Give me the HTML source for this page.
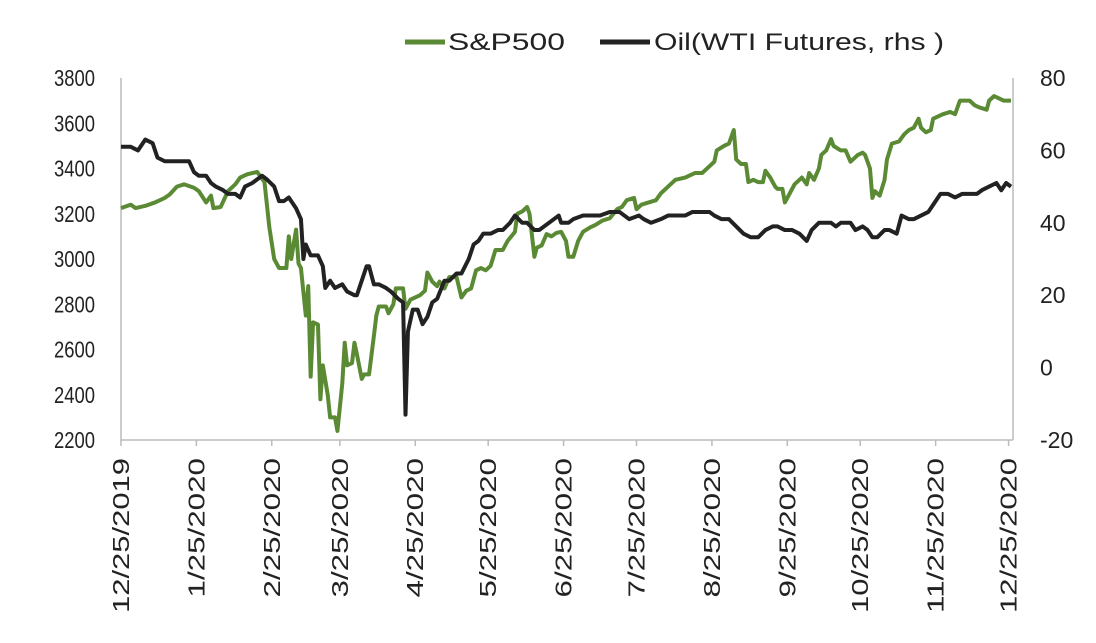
<!DOCTYPE html>
<html><head><meta charset="utf-8"><style>
body{margin:0;background:#fff;}
svg{display:block;font-family:"Liberation Sans",Verdana,sans-serif;}
</style></head><body>
<svg id="c" width="1096" height="643"></svg>
<script>
const spDays=[0,4,6,10,14,18,20,23,26,30,32,35,37,38,41,44,47,49,52,56,59,61,63,65,68,69,70,72,73,74,76,77,78,79,81,82,83,85,86,88,89,91,92,93,95,96,97,99,100,102,104,105,106,109,110,112,113,116,117,119,121,123,125,126,128,130,131,133,135,138,140,142,144,146,148,150,152,154,157,159,162,163,165,167,168,170,171,173,175,177,179,181,183,184,186,188,190,193,195,198,201,204,206,208,211,212,214,217,220,222,226,228,232,234,236,239,241,244,245,248,250,252,253,255,257,258,260,262,264,265,267,269,270,272,273,275,277,278,280,282,283,285,287,288,290,292,293,296,298,300,301,303,305,306,308,309,310,312,314,315,317,320,322,324,326,328,329,331,333,334,336,338,341,343,345,347,349,351,353,356,357,359,361,363,366];
const spVals=[3225,3240,3225,3235,3250,3270,3285,3320,3330,3315,3300,3250,3280,3225,3230,3300,3330,3360,3375,3385,3340,3140,3000,2960,2960,3100,3000,3130,2980,2960,2750,2880,2480,2720,2710,2380,2530,2400,2300,2300,2240,2450,2630,2530,2540,2630,2580,2470,2490,2490,2660,2750,2790,2790,2760,2800,2870,2870,2780,2820,2830,2840,2860,2940,2900,2880,2900,2870,2920,2920,2830,2860,2870,2950,2960,2950,2970,3040,3040,3080,3120,3200,3210,3230,3200,3010,3050,3060,3110,3100,3115,3120,3080,3010,3010,3080,3120,3140,3150,3170,3180,3220,3230,3260,3270,3220,3240,3250,3260,3290,3330,3350,3360,3370,3380,3380,3400,3430,3480,3500,3510,3570,3440,3420,3420,3340,3350,3340,3340,3390,3360,3320,3310,3310,3250,3290,3330,3340,3360,3330,3380,3350,3400,3460,3480,3530,3500,3480,3480,3430,3440,3460,3470,3460,3400,3270,3300,3280,3350,3440,3510,3520,3550,3570,3580,3620,3580,3560,3570,3620,3630,3640,3650,3640,3700,3700,3700,3680,3670,3660,3700,3720,3710,3700,3700];
const oilDays=[0,4,7,10,13,15,18,21,23,28,30,32,35,37,39,42,44,47,49,51,54,56,58,60,63,65,67,69,72,74,75,76,78,81,83,84,86,88,91,93,96,97,99,101,102,104,106,109,111,114,116,117,118,120,122,124,126,128,130,133,135,138,140,143,145,147,149,152,155,157,160,162,165,167,170,172,176,178,180,181,184,186,190,193,197,201,205,209,213,215,218,222,225,228,232,235,238,242,244,247,250,253,256,259,262,265,268,270,273,276,279,282,284,287,292,294,296,300,302,305,307,309,311,314,316,319,321,324,326,329,332,334,337,340,343,346,349,352,354,357,360,362,364,366];
const oilVals=[61,61,60,63,62,58,57,57,57,57,54,53,53,51,50,49,48,48,47,50,51,52,53,52,50,46,46,47,44,41,30,34,31,31,28,22,24,22,23,21,20,20,24,28,28,23,23,22,21,19,18,-13,10,16,16,12,14,18,19,24,24,26,26,30,34,35,37,37,38,38,40,42,40,40,38,38,40,41,42,40,40,41,42,42,42,43,43,41,42,41,40,41,42,42,42,43,43,43,42,41,41,39,37,36,36,38,39,39,38,38,37,35,38,40,40,39,40,40,38,39,38,36,36,38,38,37,42,41,41,42,43,45,48,48,47,48,48,48,49,50,51,49,51,50];
const leftTicks=[2200,2400,2600,2800,3000,3200,3400,3600,3800];
const rightTicks=[-20,0,20,40,60,80];
const xTickDays=[0,31,62,90,121,151,182,212,243,274,304,335,365];
const xTickLabels=["12/25/2019","1/25/2020","2/25/2020","3/25/2020","4/25/2020","5/25/2020","6/25/2020","7/25/2020","8/25/2020","9/25/2020","10/25/2020","11/25/2020","12/25/2020"];

const X0=121,X1=1011,Y0=440,Y1=78;
const x=d=>X0+d*(X1-X0)/366;
const yl=v=>Y0-(v-2200)*(Y0-Y1)/1600;
const yr=v=>Y0-(v+20)*(Y0-Y1)/100;
const svg=document.getElementById('c');const NS='http://www.w3.org/2000/svg';
function mk(t,a,p){const e=document.createElementNS(NS,t);for(const k in a)e.setAttribute(k,a[k]);(p||svg).appendChild(e);return e;}

let e;
e=mk('line',{x1:X0,y1:Y1,x2:X0,y2:Y0,stroke:'#bbb','stroke-width':1.5});


e=mk('line',{x1:X1+2,y1:Y1,x2:X1+2,y2:Y0,stroke:'#bbb','stroke-width':1.5});


e=mk('line',{x1:X0,y1:Y0,x2:X1+2,y2:Y0,stroke:'#bbb','stroke-width':1.5});



leftTicks.forEach(v=>{
  const t=mk('text',{x:95,y:yl(v)+8,'text-anchor':'end','font-size':23,fill:'#222',textLength:41,lengthAdjust:'spacingAndGlyphs'});t.textContent=v;
  
  
});
rightTicks.forEach(v=>{
  const t=mk('text',{x:1040,y:yr(v)+8,'text-anchor':'start','font-size':23,fill:'#222'});t.textContent=v;
  
  
});
xTickDays.forEach((d,i)=>{
  const l=mk('line',{x1:x(d),y1:Y0,x2:x(d),y2:Y0+6,stroke:'#bbb','stroke-width':1.5});
  
  
  const len=xTickLabels[i].length;
  const t=mk('text',{x:0,y:0,'text-anchor':'end','font-size':23,fill:'#222',textLength:len*15.5,lengthAdjust:'spacingAndGlyphs',transform:`translate(${x(d)+8},458) rotate(-90)`});
  t.textContent=xTickLabels[i];
  
  
});

const sp=mk('polyline',{points:spDays.map((d,i)=>x(d)+','+yl(spVals[i])).join(' '),fill:'none',stroke:'#5b8a34','stroke-width':4,'stroke-linejoin':'round'});


const oil=mk('polyline',{points:oilDays.map((d,i)=>x(d)+','+yr(oilVals[i])).join(' '),fill:'none',stroke:'#222','stroke-width':4,'stroke-linejoin':'round'});



const lg=mk('g',{});


e=mk('line',{x1:405,y1:42,x2:445,y2:42,stroke:'#5b8a34','stroke-width':5},lg);


e=mk('text',{x:448,y:50,'font-size':24,fill:'#222',textLength:117,lengthAdjust:'spacingAndGlyphs'},lg);e.textContent='S&P500';


e=mk('line',{x1:600,y1:42,x2:650,y2:42,stroke:'#222','stroke-width':5},lg);


e=mk('text',{x:654,y:50,'font-size':24,fill:'#222',textLength:290,lengthAdjust:'spacingAndGlyphs'},lg);e.textContent='Oil(WTI Futures, rhs )';


</script>
</body></html>
